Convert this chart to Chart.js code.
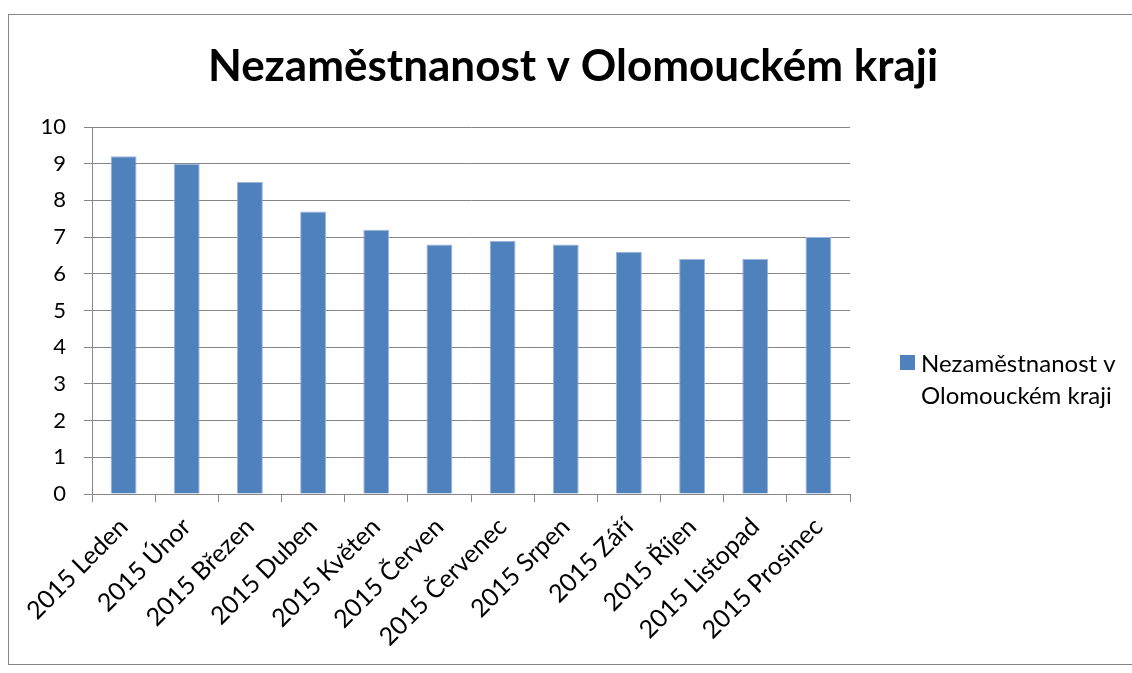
<!DOCTYPE html>
<html>
<head>
<meta charset="utf-8">
<title>Nezaměstnanost v Olomouckém kraji</title>
<script src="https://cdn.jsdelivr.net/npm/chart.js@4"></script>
<style>
  body { margin: 0; background: #fff; overflow: hidden; }
  #obal { position: relative; width: 1132px; height: 673px; overflow: hidden; }
  #ramecek { position: absolute; left: 8px; top: 14px; right: 0; height: 651px; border: 1px solid #868686; border-right: none; box-sizing: border-box; pointer-events: none; }
</style>
</head>
<body>
<div id="obal">
  <div id="ramecek"></div>
  <canvas id="graf"></canvas>
</div>
<script>
// Data z obrázku (odhad)
const mesice = ["2015 Leden", "2015 Únor", "2015 Březen", "2015 Duben", "2015 Květen", "2015 Červen",
  "2015 Červenec", "2015 Srpen", "2015 Září", "2015 Říjen", "2015 Listopad", "2015 Prosinec"];
const hodnoty = [9.2, 9.0, 8.5, 7.7, 7.2, 6.8, 6.9, 6.8, 6.6, 6.4, 6.4, 7.0];
const nazevGrafu = "Nezaměstnanost v Olomouckém kraji";
const legendaRadky = ["Nezaměstnanost v", "Olomouckém kraji"];

const PISMO = "Lato, 'Open Sans', sans-serif";
const SEDA = "#868686";
const MODRA = "#4F81BD";

// Nadpis a legenda kreslené ručně (legenda se zalamuje na dva řádky)
const nadpisALegenda = {
  id: 'nadpisALegenda',
  afterDraw(chart) {
    const ctx = chart.ctx;
    ctx.save();
    ctx.fillStyle = "#000";
    ctx.font = "bold 44px " + PISMO;
    ctx.textAlign = "center";
    ctx.textBaseline = "alphabetic";
    ctx.fillText(nazevGrafu, 573, 81);

    ctx.fillStyle = MODRA;
    ctx.fillRect(900, 355, 15, 15);
    ctx.fillStyle = "#000";
    ctx.font = "24px " + PISMO;
    ctx.textAlign = "left";
    ctx.textBaseline = "middle";
    legendaRadky.forEach((t, i) => ctx.fillText(t, 921, 364 + i * 32));
    ctx.restore();
  }
};

new Chart(document.getElementById('graf'), {
  type: 'bar',
  data: {
    labels: mesice,
    datasets: [{
      label: nazevGrafu,
      data: hodnoty,
      backgroundColor: MODRA,
      borderColor: "#9DB5D8",
      borderWidth: 1,
      barPercentage: 0.41,
      categoryPercentage: 1
    }]
  },
  options: {
    responsive: true,
    maintainAspectRatio: false,
    animation: false,
    layout: { padding: { left: 8, right: 282, top: 127, bottom: 0 } },
    plugins: {
      legend: { display: false },
      title: { display: false },
      tooltip: { enabled: false }
    },
    scales: {
      x: {
        afterFit: (s) => { s.height = 179; },
        grid: { display: true, drawOnChartArea: false, drawTicks: true, tickLength: 8, offset: true, color: SEDA },
        border: { display: true, color: SEDA, width: 1 },
        ticks: {
          color: "#000",
          font: { family: PISMO, size: 25 },
          minRotation: 45,
          maxRotation: 45,
          padding: 10,
          autoSkip: false
        }
      },
      y: {
        min: 0,
        max: 10,
        afterFit: (s) => { s.width = 84; },
        grid: { color: SEDA, tickLength: 8, lineWidth: 1 },
        border: { display: true, color: SEDA, width: 1 },
        ticks: {
          stepSize: 1,
          color: "#000",
          font: { family: PISMO, size: 22 },
          padding: 18
        }
      }
    }
  },
  plugins: [nadpisALegenda]
});
</script>
</body>
</html>
